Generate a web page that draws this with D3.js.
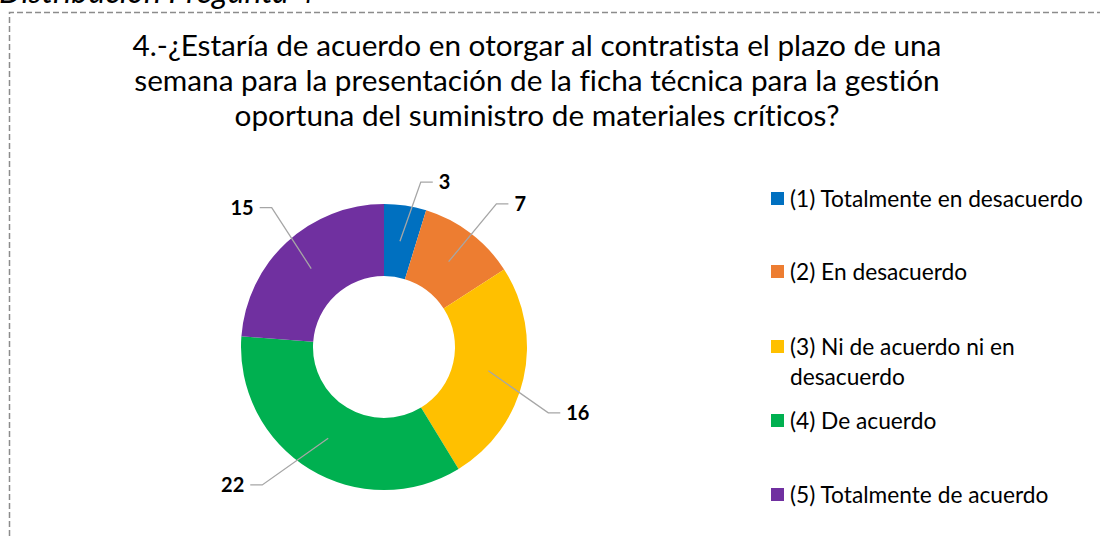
<!DOCTYPE html>
<html>
<head>
<meta charset="utf-8">
<script src="https://cdn.jsdelivr.net/npm/d3@7"></script>
<style>
  body { margin: 0; background: #fff; }
  svg { display: block; }
  text { font-variant-ligatures: none; font-feature-settings: "liga" 0, "dlig" 0; }
</style>
</head>
<body>
<svg id="chart" width="1100" height="536"></svg>
<script>
// data
const categories = [
  "(1) Totalmente en desacuerdo",
  "(2) En desacuerdo",
  "(3) Ni de acuerdo ni en desacuerdo",
  "(4) De acuerdo",
  "(5) Totalmente de acuerdo"
];
const values = [3, 7, 16, 22, 15];
const colors = ["#0070C0", "#ED7D31", "#FFC000", "#00B050", "#7030A0"];
const titleLines = [
  "4.-¿Estaría de acuerdo en otorgar al contratista el plazo de una",
  "semana para la presentación de la ficha técnica para la gestión",
  "oportuna del suministro de materiales críticos?"
];
const legendLines = [
  ["(1) Totalmente en desacuerdo"],
  ["(2) En desacuerdo"],
  ["(3) Ni de acuerdo ni en", "desacuerdo"],
  ["(4) De acuerdo"],
  ["(5) Totalmente de acuerdo"]
];
// small angle nudges for the leader lines (degrees)
const labelNudge = [4, 1, 9, 10, 4];
const labelRadius = [169, 182, 177, 184, 179];

const font = "Lato, 'Open Sans', sans-serif";
const svg = d3.select("#chart");
const width = 1100, height = 536;

// fit a text selection's font size so its first node has a given width
function fitWidth(sel, size, target) {
  const w = sel.node().getComputedTextLength();
  sel.style("font-size", (size * target / w) + "px");
}

// clipped caption above the frame
const caption = svg.append("text")
  .attr("x", -1).attr("y", 3)
  .style("font-family", font)
  .style("font-style", "italic")
  .style("font-size", "24px")
  .attr("fill", "#000")
  .text("Distribución Pregunta 4");
fitWidth(caption, 24, 316);

// dashed frame
svg.append("path")
  .attr("d", `M9.5,${height} L9.5,12.5 L${width},12.5`)
  .attr("fill", "none")
  .attr("stroke", "#8c8c8c")
  .attr("stroke-width", 1.5)
  .attr("stroke-dasharray", "6,3");

// title, fitted to the width of the first line
const titleText = svg.append("g").attr("class", "title")
  .selectAll("text")
  .data(titleLines)
  .join("text")
  .attr("x", 537)
  .attr("y", (d, i) => 56 + i * 35)
  .attr("text-anchor", "middle")
  .style("font-family", font)
  .style("font-size", "24px")
  .attr("fill", "#000")
  .text(d => d);
fitWidth(titleText, 24, 809);

// donut
const cx = 384, cy = 347, outerR = 143, innerR = 71;
const pie = d3.pie().sort(null).value(d => d);
const arcs = pie(values);
const arc = d3.arc().innerRadius(innerR).outerRadius(outerR);

const g = svg.append("g").attr("transform", `translate(${cx},${cy})`);
g.selectAll("path.slice")
  .data(arcs)
  .join("path")
  .attr("class", "slice")
  .attr("d", arc)
  .attr("fill", (d, i) => colors[i]);

// leader lines and value labels
const midR = (innerR + outerR) / 2;
g.selectAll("g.lbl")
  .data(arcs)
  .join("g")
  .attr("class", "lbl")
  .each(function (d, i) {
    const a = (d.startAngle + d.endAngle) / 2;
    const an = a + labelNudge[i] * Math.PI / 180;
    const p0 = [midR * Math.sin(a), -midR * Math.cos(a)];
    const p1 = [labelRadius[i] * Math.sin(an), -labelRadius[i] * Math.cos(an)];
    const right = p1[0] > 0;
    const p2 = [p1[0] + (right ? 12 : -12), p1[1]];
    const sel = d3.select(this);
    sel.append("polyline")
      .attr("points", [p0, p1, p2].map(p => p.join(",")).join(" "))
      .attr("fill", "none")
      .attr("stroke", "#a6a6a6")
      .attr("stroke-width", 1.3);
    sel.append("text")
      .attr("x", p2[0] + (right ? 6 : -6))
      .attr("y", p2[1])
      .attr("dy", "0.36em")
      .attr("text-anchor", right ? "start" : "end")
      .style("font-family", font)
      .style("font-weight", "bold")
      .style("font-size", "20px")
      .attr("fill", "#000")
      .text(d.data);
  });

// legend
const legendY = [199, 272, 347, 421, 495];
const items = svg.append("g").attr("class", "legend")
  .selectAll("g")
  .data(categories)
  .join("g")
  .attr("transform", (d, i) => `translate(771,${legendY[i]})`);
items.append("rect")
  .attr("x", 0).attr("y", -7)
  .attr("width", 13).attr("height", 13)
  .attr("fill", (d, i) => colors[i]);
const legText = items.append("text")
  .attr("x", 19)
  .attr("y", 0)
  .style("font-family", font)
  .style("font-size", "17px")
  .attr("fill", "#000");
legText.selectAll("tspan")
  .data((d, i) => legendLines[i])
  .join("tspan")
  .attr("x", 19)
  .attr("dy", (d, j) => j === 0 ? "0.36em" : "30px")
  .text(d => d);
fitWidth(legText, 17, 293);
</script>
</body>
</html>
